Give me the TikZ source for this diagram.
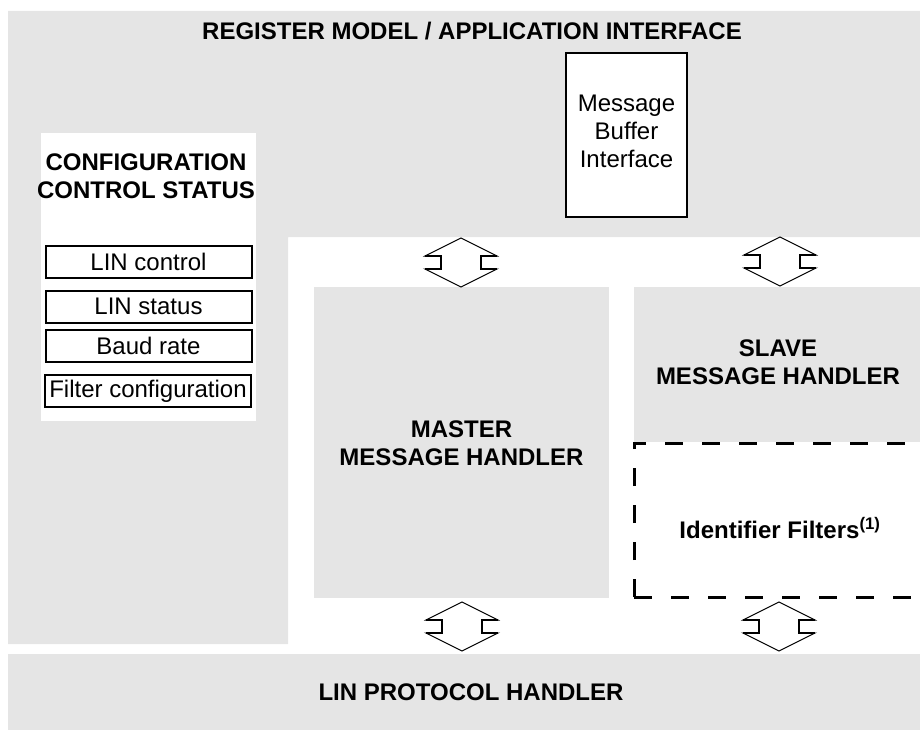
\documentclass[tikz,border=0pt]{standalone}
\usepackage{fontspec}
\setmainfont{Liberation Sans}
\definecolor{blockgray}{RGB}{229,229,229}
\tikzset{
  graybg/.style={fill=blockgray, draw=none},
  whitebg/.style={fill=white, draw=none},
  lbl/.style={font=\fontsize{24}{28}\selectfont\bfseries, align=center, inner sep=0pt},
  plain/.style={font=\fontsize{24}{28}\selectfont, align=center, inner sep=0pt},
  regbox/.style={draw=black, line width=2pt, fill=white, minimum width=206pt, minimum height=32pt, inner sep=0pt, font=\fontsize{24}{28}\selectfont},
  arrowoutline/.style={draw=black, line width=1pt, fill=white, line join=miter},
  arrownotch/.style={draw=black, line width=2.4pt},
  filterline/.style={draw=black, line width=3pt, dash pattern=on 18pt off 19pt}
}
\newcommand{\dualarrow}[2]{%
  \path[arrowoutline] (#1,#2) -- ++(36,18) -- ++(-16,0) -- ++(0,13) -- ++(16,0)
    -- ++(-36,18) -- ++(-36,-18) -- ++(16,0) -- ++(0,-13) -- ++(-16,0) -- cycle;
  \draw[arrownotch] (#1+36,#2+18) -- (#1+20,#2+18) -- (#1+20,#2+31) -- (#1+36,#2+31);
  \draw[arrownotch] (#1-36,#2+18) -- (#1-20,#2+18) -- (#1-20,#2+31) -- (#1-36,#2+31);
}
\begin{document}
\begin{tikzpicture}[x=1pt,y=-1pt]
\useasboundingbox (0,0) rectangle (920,730);
% register model region (L-shaped)
\path[graybg] (8,11) -- (920,11) -- (920,237) -- (288,237) -- (288,644) -- (8,644) -- cycle;
\node[lbl] (regtxt) at (472,31) {REGISTER MODEL / APPLICATION INTERFACE};
% configuration column
\path[whitebg] (41,133) rectangle (256,421);
\node[lbl] (cfgtxt) at (146,176) {CONFIGURATION\\CONTROL STATUS};
\node[regbox] (linctrl) at (148.5,262) {LIN control};
\node[regbox] (linstat) at (148.5,306.5) {LIN status};
\node[regbox] (baud) at (148.5,345.5) {Baud rate};
\node[regbox] (filtcfg) at (148,391) {Filter configuration};
% message buffer interface
\path[draw=black, line width=2pt, fill=white] (566,53) rectangle (687,217);
\node[plain] (mbitxt) at (626.5,131) {Message\\Buffer\\Interface};
% master
\path[graybg] (314,287) rectangle (609,598);
\node[lbl] (mastertxt) at (461.5,443) {MASTER\\MESSAGE HANDLER};
% slave
\path[graybg] (634,287) rectangle (920,442);
\node[lbl] (slavetxt) at (778,362) {SLAVE\\MESSAGE HANDLER};
% identifier filters
\draw[filterline] (634,597) -- (634,443) -- (925,443);
\draw[filterline] (634,597) -- (925,597);
\node[lbl] (idtxt) at (780,528) {Identifier Filters\textsuperscript{(1)}};
% LIN protocol handler
\path[graybg] (8,654) rectangle (920,730);
\node[lbl] (lintxt) at (471,692) {LIN PROTOCOL HANDLER};
% double arrows
\dualarrow{461}{238}
\dualarrow{780}{237}
\dualarrow{462}{602}
\dualarrow{779}{602}
\end{tikzpicture}
\end{document}
